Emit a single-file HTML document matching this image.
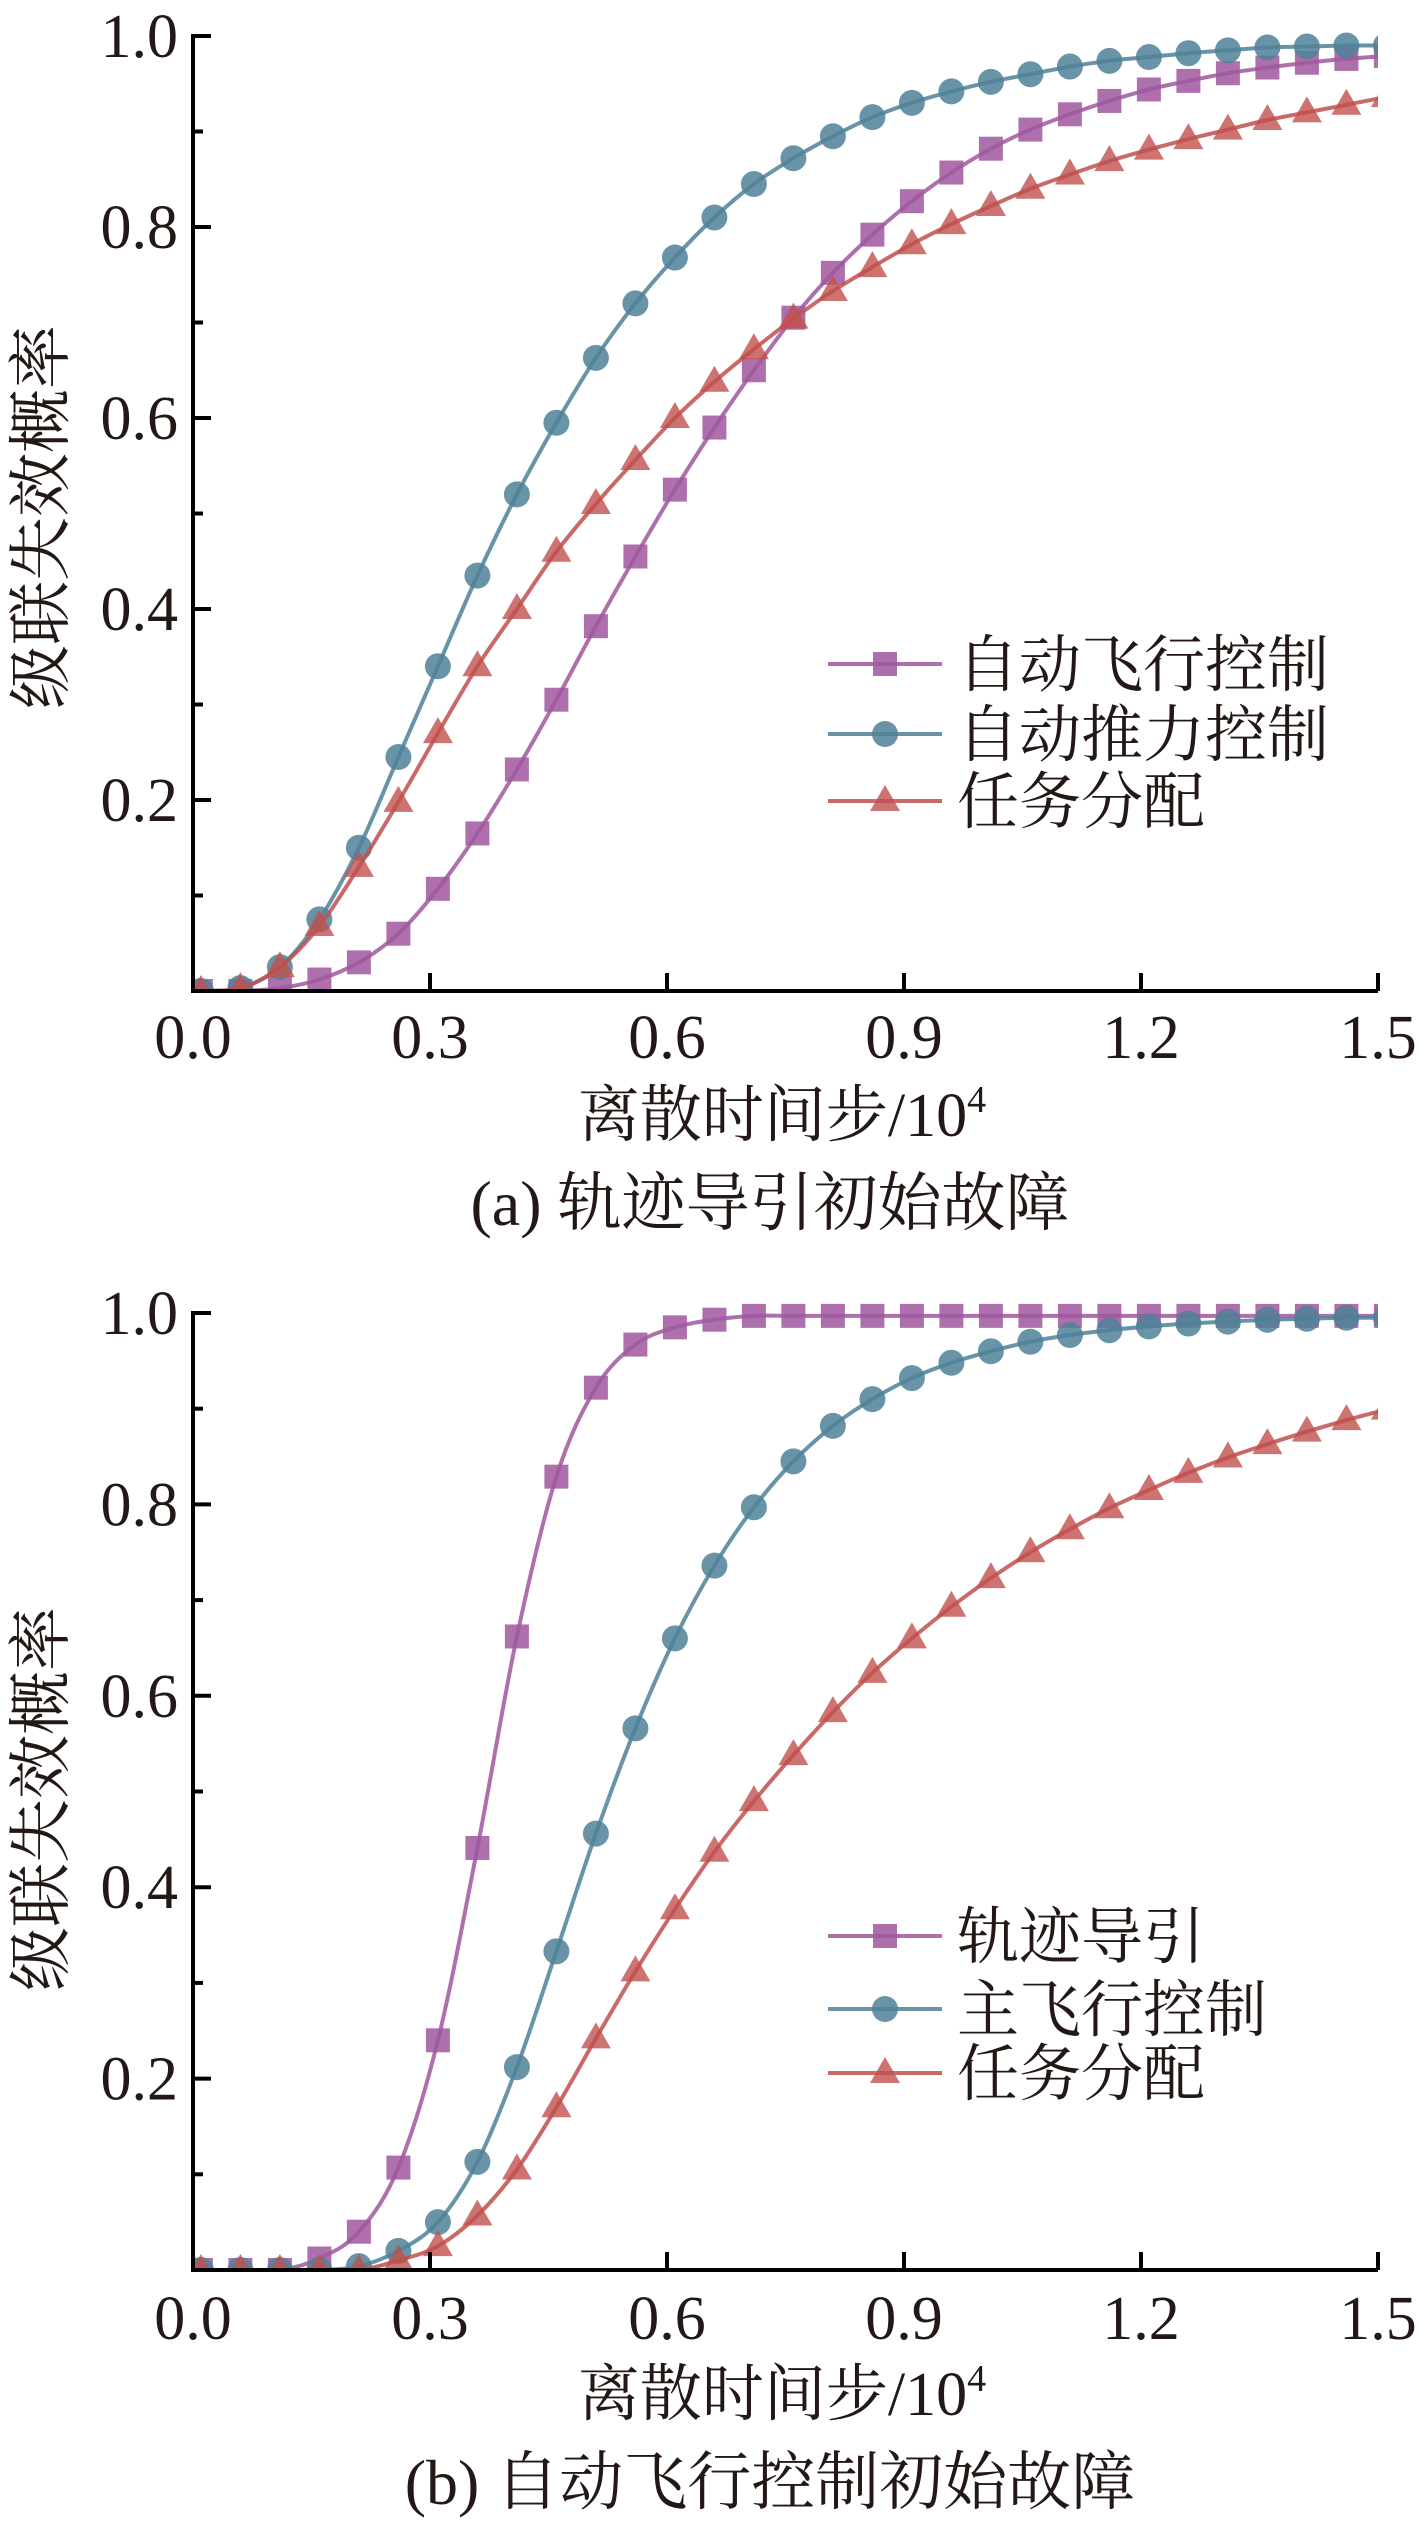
<!DOCTYPE html>
<html><head><meta charset="utf-8">
<style>
html,body{margin:0;padding:0;background:#fff;}
svg{display:block;}
text{font-family:"Liberation Serif","Noto Serif CJK SC","Noto Sans CJK SC",serif;fill:#231815;}
</style></head>
<body>
<svg id="s" width="1426" height="2522" viewBox="0 0 1426 2522" xmlns="http://www.w3.org/2000/svg"></svg>
<script>
const S=document.getElementById('s');
const NS='http://www.w3.org/2000/svg';
function el(t,a,p){const e=document.createElementNS(NS,t);for(const k in a)e.setAttribute(k,a[k]);(p||S).appendChild(e);return e;}
const COL={p:'#a0579f',b:'#4f8198',r:'#c0504d'};
const panels=[
{x0:193,x1:1378,yT:36,yB:991,clip:'ca',
 title:'(a) 轨迹导引初始故障',tY:1203,axY:1114,tickY:1037,ylabY:517,legY:[664,734,801],
 leg:['自动飞行控制','自动推力控制','任务分配'],
 series:[
  ['p','sq',[0,0,0.003,0.012,0.03,0.06,0.107,0.165,0.232,0.305,0.382,0.455,0.525,0.59,0.65,0.705,0.752,0.792,0.827,0.857,0.882,0.902,0.918,0.932,0.944,0.953,0.961,0.967,0.972,0.976,0.979]],
  ['b','ci',[0,0.003,0.025,0.075,0.15,0.245,0.34,0.435,0.52,0.595,0.663,0.72,0.768,0.81,0.845,0.872,0.895,0.915,0.93,0.942,0.952,0.96,0.968,0.974,0.978,0.982,0.985,0.988,0.989,0.99,0.99]],
  ['r','tr',[0,0.003,0.025,0.068,0.13,0.198,0.27,0.34,0.4,0.46,0.51,0.556,0.6,0.638,0.672,0.704,0.733,0.758,0.782,0.803,0.822,0.84,0.855,0.869,0.881,0.892,0.902,0.912,0.92,0.928,0.936]]
 ]},
{x0:193,x1:1378,yT:1313,yB:2270,clip:'cb',
 title:'(b) 自动飞行控制初始故障',tY:2482,axY:2393,tickY:2318,ylabY:1799,legY:[1936,2009,2073],
 leg:['轨迹导引','主飞行控制','任务分配'],
 series:[
  ['p','sq',[0,0,0,0.012,0.04,0.107,0.24,0.441,0.662,0.829,0.922,0.967,0.985,0.993,0.997,0.997,0.997,0.997,0.997,0.997,0.997,0.997,0.997,0.997,0.997,0.997,0.997,0.997,0.997,0.997,0.997]],
  ['b','ci',[0,0,0,0,0.004,0.02,0.05,0.113,0.212,0.333,0.456,0.566,0.66,0.736,0.797,0.845,0.882,0.91,0.932,0.948,0.96,0.97,0.977,0.982,0.986,0.989,0.991,0.993,0.994,0.995,0.995]],
  ['r','tr',[0,0,0,0,0,0.01,0.025,0.057,0.105,0.17,0.242,0.312,0.377,0.437,0.49,0.538,0.583,0.624,0.66,0.693,0.723,0.75,0.774,0.796,0.815,0.833,0.849,0.863,0.876,0.888,0.899]]
 ]}
];
function marker(g,type,x,y,c){
  if(type==='sq')el('rect',{x:x-12,y:y-12,width:24,height:24,fill:c,'fill-opacity':0.85},g);
  else if(type==='ci')el('circle',{cx:x,cy:y,r:13,fill:c,'fill-opacity':0.85},g);
  else el('polygon',{points:`${x},${y-16} ${x-15},${y+10} ${x+15},${y+10}`,fill:c,'fill-opacity':0.8},g);
}
function smooth(pts){
  let d='M'+pts[0][0]+','+pts[0][1];
  for(let i=0;i<pts.length-1;i++){
    const p0=pts[Math.max(0,i-1)],p1=pts[i],p2=pts[i+1],p3=pts[Math.min(pts.length-1,i+2)];
    const c1x=p1[0]+(p2[0]-p0[0])/6,c1y=p1[1]+(p2[1]-p0[1])/6;
    const c2x=p2[0]-(p3[0]-p1[0])/6,c2y=p2[1]-(p3[1]-p1[1])/6;
    d+=`C${c1x.toFixed(1)},${c1y.toFixed(1)} ${c2x.toFixed(1)},${c2y.toFixed(1)} ${p2[0].toFixed(1)},${p2[1].toFixed(1)}`;
  }
  return d;
}
const defs=el('defs',{});
panels.forEach(P=>{
  const W=P.x1-P.x0,H=P.yB-P.yT;
  const X=v=>P.x0+v/1.5*W, Y=v=>P.yB-v*H;
  const cp=el('clipPath',{id:P.clip},defs);
  el('rect',{x:P.x0,y:P.yT-20,width:W,height:H+20},cp);
  const g=el('g',{'clip-path':`url(#${P.clip})`});
  P.series.forEach(s=>{
    const c=COL[s[0]];
    const pts=s[2].map((v,i)=>[X(0.01+0.05*i),Y(v)]);
    el('path',{d:smooth(pts),fill:'none',stroke:c,'stroke-width':4,'stroke-opacity':0.85},g);
    pts.forEach(p=>marker(g,s[1],p[0],p[1],c));
  });
  // axes
  el('path',{d:`M${P.x0},${P.yT-2}V${P.yB}H${P.x1}`,fill:'none',stroke:'#000','stroke-width':4});
  for(let i=0;i<=5;i++){
    const x=X(i*0.3);
    if(i>0)el('line',{x1:x,y1:P.yB,x2:x,y2:P.yB-18,stroke:'#000','stroke-width':4});
    const t=el('text',{x:x,y:P.tickY+21,'text-anchor':'middle','font-size':62});t.textContent=(i*0.3).toFixed(1);
  }
  for(let k=1;k<=10;k++){
    const y=Y(k/10);const major=k%2===0;
    el('line',{x1:P.x0,y1:y,x2:P.x0+(major?18:10),y2:y,stroke:'#000','stroke-width':4});
    if(major){const t=el('text',{x:178,y:y+21,'text-anchor':'end','font-size':62});t.textContent=(k/10).toFixed(1);}
  }
  const yl=el('text',{x:0,y:0,'text-anchor':'middle','font-size':64,transform:`translate(63,${P.ylabY}) rotate(-90)`});
  yl.textContent='级联失效概率';
  const xt=el('text',{x:782,y:P.axY+22,'text-anchor':'middle','font-size':62});
  xt.innerHTML='离散时间步/10<tspan font-size="38" dy="-24">4</tspan>';
  const ct=el('text',{x:770,y:P.tY+22,'text-anchor':'middle','font-size':64});ct.textContent=P.title;
  // legend
  P.series.forEach((s,i)=>{
    const c=COL[s[0]],y=P.legY[i];
    el('line',{x1:828,y1:y,x2:942,y2:y,stroke:c,'stroke-width':4,'stroke-opacity':0.85});
    marker(S,s[1],885,y,c);
    const t=el('text',{x:957,y:y+22,'font-size':62});t.textContent=P.leg[i];
  });
});
</script>
</body></html>
